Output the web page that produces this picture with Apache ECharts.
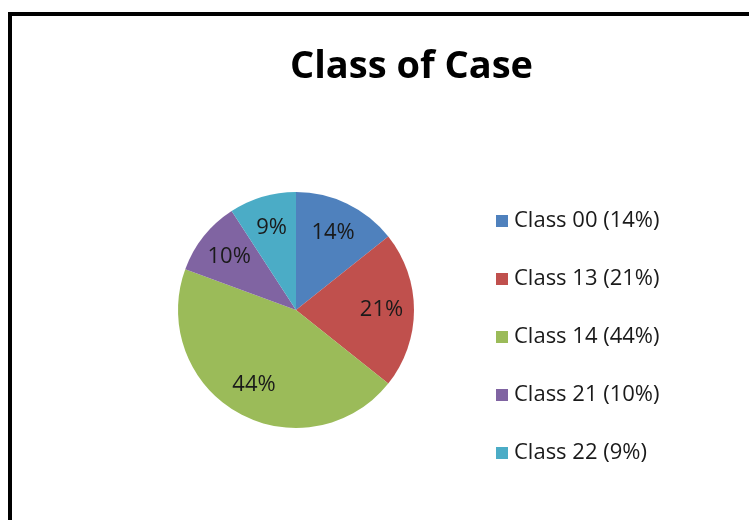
<!DOCTYPE html>
<html>
<head>
<meta charset="utf-8">
<script src="https://cdn.jsdelivr.net/npm/echarts@6/dist/echarts.min.js"></script>
<style>
html, body { margin: 0; padding: 0; background: #fff; }
#main { width: 749px; height: 520px; }
</style>
</head>
<body>
<div id="main"></div>
<script>
// data
var classNames = ['Class 00', 'Class 13', 'Class 14', 'Class 21', 'Class 22'];
var shares = [14, 21, 44, 10, 9];
var colors = ['#4F81BD', '#C0504D', '#9BBB59', '#8064A2', '#4BACC6'];

var pieData = [];
for (var i = 0; i < classNames.length; i++) {
	pieData.push({
		name: classNames[i] + ' (' + shares[i] + '%)',
		value: shares[i],
		itemStyle: { color: colors[i] }
	});
}

var myChart = echarts.init(document.getElementById('main'), null, { renderer: 'canvas' });

var option = {
	backgroundColor: '#fff',
	animation: false,
	title: {
		text: 'Class of Case',
		left: 285,
		top: 43,
		textStyle: {
			fontFamily: 'Open Sans',
			fontWeight: 'bold',
			fontSize: 38,
			color: '#000'
		}
	},
	legend: {
		orient: 'vertical',
		left: 491,
		top: 205,
		itemWidth: 12,
		itemHeight: 12,
		itemGap: 36,
		icon: 'rect',
		data: pieData.map(function (d) { return d.name; }),
		textStyle: {
			fontFamily: 'Open Sans',
			fontSize: 22,
			lineHeight: 21,
			color: '#1a1a1a',
			padding: [0, 0, 0, 1]
		}
	},
	graphic: [{
		type: 'rect',
		shape: { x: 10, y: 14, width: 800, height: 600 },
		style: { fill: 'none', stroke: '#000', lineWidth: 4 },
		silent: true,
		z: 100
	}],
	series: [
		{
			type: 'pie',
			center: [296, 310],
			radius: [0, 118],
			startAngle: 90,
			clockwise: true,
			label: { show: false },
			labelLine: { show: false },
			itemStyle: { borderWidth: 0 },
			emphasis: { disabled: true },
			data: pieData
		},
		{
			// transparent ring only used to place the labels at ~0.7 r
			type: 'pie',
			center: [296, 310],
			radius: [47, 118],
			startAngle: 90,
			clockwise: true,
			silent: true,
			z: 3,
			itemStyle: { color: 'rgba(0,0,0,0)', borderWidth: 0 },
			emphasis: { disabled: true },
			label: {
				show: true,
				position: 'inside',
				formatter: function (p) { return shares[p.dataIndex] + '%'; },
				fontFamily: 'Open Sans',
				fontSize: 22,
				color: '#1a1a1a'
			},
			labelLine: { show: false },
			data: shares.map(function (v, i) { return { name: 'lbl' + i, value: v }; })
		}
	]
};

myChart.setOption(option);
</script>
</body>
</html>
